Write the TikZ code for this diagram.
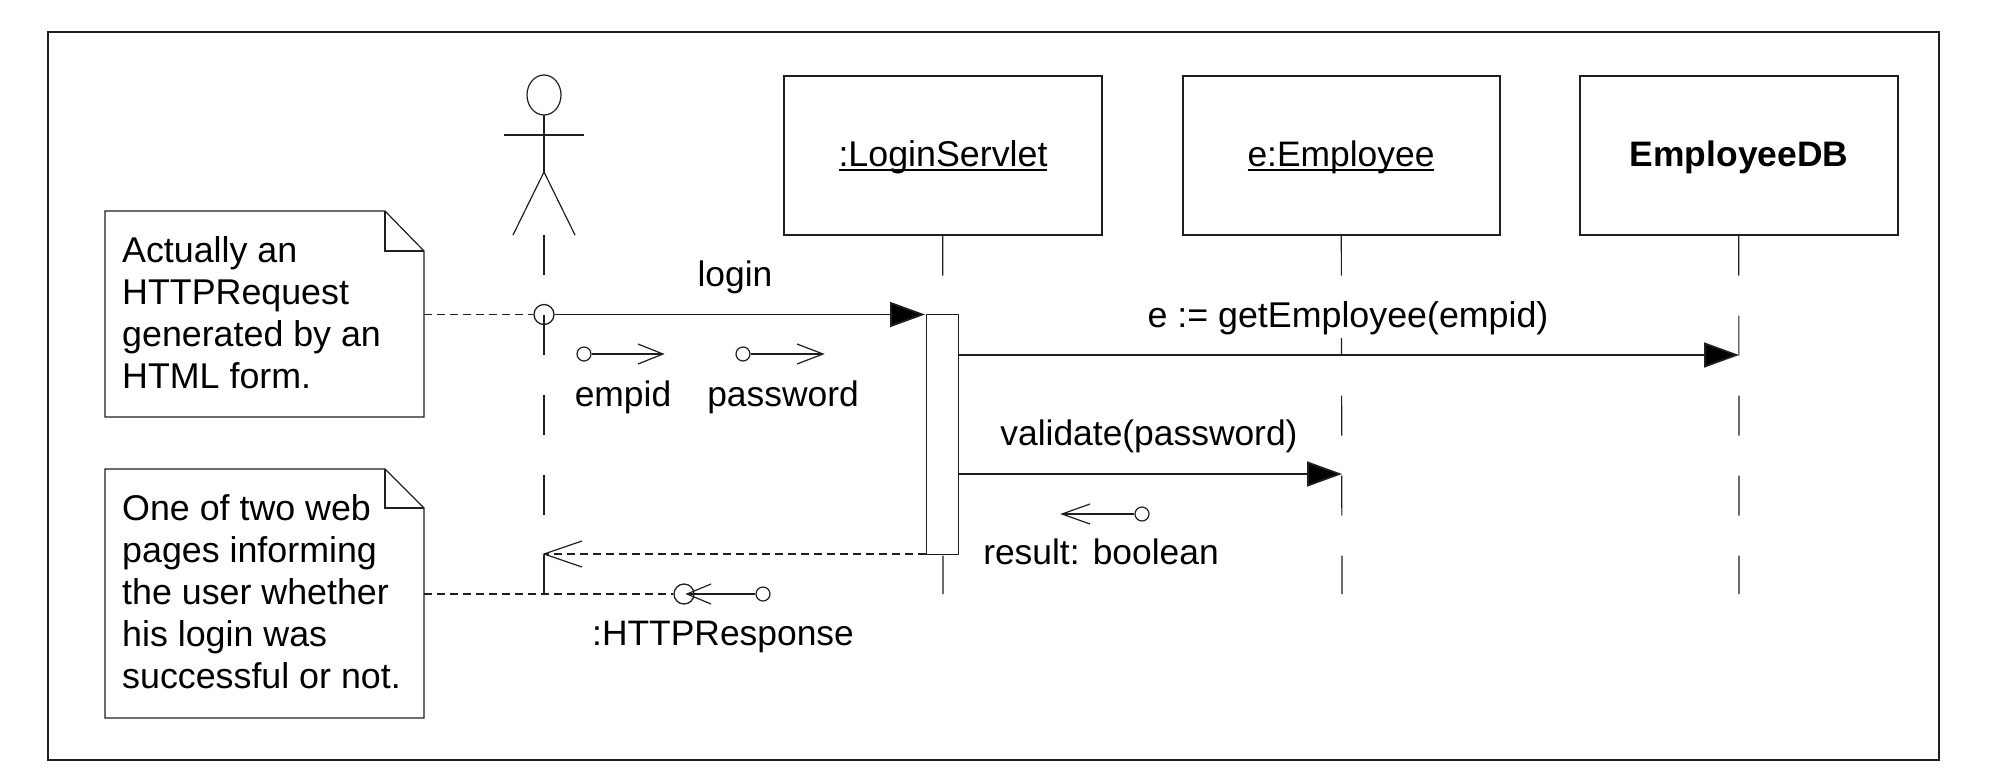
\documentclass[tikz,border=0pt]{standalone}
\usepackage{fontspec}
\setmainfont{Liberation Sans}
\usetikzlibrary{arrows.meta}
\definecolor{ink}{gray}{0.12}
\newcommand{\ulbar}[1]{{\setbox0\hbox{#1}\rlap{\rule[-4.6pt]{\wd0}{2.4pt}}\box0}}
\tikzset{
  x=1pt,y=-1pt,
  frameline/.style={draw=ink,line width=2.8pt},
  thinline/.style={draw=ink,line width=1.2pt},
  boxline/.style={draw=ink,line width=1.6pt},
  objbox/.style={boxline,minimum width=318pt,minimum height=159pt,inner sep=0pt,anchor=north west},
  txt/.style={inner sep=0pt,anchor=base,font=\fontsize{35.4}{42}\selectfont},
  txtw/.style={inner sep=0pt,anchor=base,font=\fontsize{35.8}{42}\selectfont},
  txtl/.style={inner sep=0pt,anchor=base west,font=\fontsize{35.8}{42}\selectfont},
  msg/.style={draw=ink,line width=1.8pt},
  filledhead/.style={-{Triangle[length=35pt,width=25pt,fill=black]}},
  lifedash/.style={draw=ink,line width=1.2pt,dash pattern=on 40pt off 40pt},
  noteleader/.style={draw=ink,line width=1.4pt,dash pattern=on 8pt off 5pt},
  ring/.style={circle,draw=ink,line width=1.3pt,inner sep=0pt,minimum size=20pt},
  smallring/.style={circle,draw=ink,line width=1.2pt,inner sep=0pt,minimum size=14pt,fill=white},
}
\begin{document}
\begin{tikzpicture}
\useasboundingbox (0,0) rectangle (2002,772);
\draw[frameline] (48,32) rectangle (1939,760);
% actor
\draw[thinline] (544,95) ellipse [x radius=17,y radius=20];
\coordinate (neck) at (544,115);
\coordinate (hip) at (544,172);
\draw[thinline] (neck) -- (hip);
\draw[thinline] (504,135) -- (584,135);
\draw[thinline] (513,235) -- (hip) -- (575,235);
% object boxes
\node[objbox] (srv) at (783,75) {};
\node[objbox,minimum width=317pt] (emp) at (1182,75) {};
\node[objbox] (db) at (1579,75) {};
\node[txtw] at (943,166.5) {\ulbar{:LoginServlet}};
\node[txt] at (1341,166.5) {\ulbar{e:Employee}};
\node[txt] at (1739,166.5) {\bfseries EmployeeDB};
% lifelines
\coordinate (actTop) at (544,235);
\coordinate (actBot) at (544,594);
\coordinate (srvBot) at (943,594);
\coordinate (empBot) at (1342,594);
\coordinate (dbBot) at (1739,594);
\draw[lifedash] (actTop) -- (actBot);
\draw[lifedash] (srv.south) -- (srvBot);
\draw[lifedash] (emp.south) -- (empBot);
\draw[lifedash] (db.south) -- (dbBot);
% activation
\node[draw=ink,line width=1.2pt,fill=white,minimum width=32pt,minimum height=240pt,inner sep=0pt,anchor=north west] (act) at (926,314) {};
% notes
\coordinate (n1a) at (105,211); \coordinate (n1b) at (385,211);
\coordinate (n1c) at (424,251); \coordinate (n1d) at (424,417); \coordinate (n1e) at (105,417);
\coordinate (n1f) at (385,251);
\draw[thinline,fill=white] (n1a) -- (n1b) -- (n1c) -- (n1d) -- (n1e) -- cycle;
\draw[thinline] (n1b) -- (n1f) -- (n1c);
\node[txtl] at (122,262) {Actually an};
\node[txtl] at (122,304) {HTTPRequest};
\node[txtl] at (122,346) {generated by an};
\node[txtl] at (122,388) {HTML form.};
\coordinate (n2a) at (105,469); \coordinate (n2b) at (385,469);
\coordinate (n2c) at (424,508); \coordinate (n2d) at (424,718); \coordinate (n2e) at (105,718);
\coordinate (n2f) at (385,508);
\draw[thinline,fill=white] (n2a) -- (n2b) -- (n2c) -- (n2d) -- (n2e) -- cycle;
\draw[thinline] (n2b) -- (n2f) -- (n2c);
\node[txtl] at (122,520) {One of two web};
\node[txtl] at (122,562) {pages informing};
\node[txtl] at (122,604) {the user whether};
\node[txtl] at (122,646) {his login was};
\node[txtl] at (122,688) {successful or not.};
% login
\node[ring] (lg) at (544,314.5) {};
\coordinate (n1r) at (424,314.5);
\draw[noteleader] (n1r) -- (lg.west);
\coordinate (actL) at (925,314.5);
\draw[msg,filledhead] (lg.east) -- (actL);
\node[txt] at (735,286) {login};
% small params
\node[smallring] (p1) at (584,354) {};
\coordinate (p1e) at (663,354);
\draw[msg] (p1.east) -- (p1e);
\draw[thinline] (638,344) -- (p1e) -- (638,364);
\node[txt] at (623,406) {empid};
\node[smallring] (p2) at (743,354) {};
\coordinate (p2e) at (823,354);
\draw[msg] (p2.east) -- (p2e);
\draw[thinline] (797,344) -- (p2e) -- (797,364);
\node[txt] at (783,406) {password};
% getEmployee label masks the employee lifeline
\node[txtw,fill=white,text depth=11pt] at (1348,327) {e := getEmployee(empid)};
\coordinate (geS) at (958,355); \coordinate (geE) at (1739,355);
\draw[msg,filledhead] (geS) -- (geE);
% validate
\coordinate (vaS) at (958,474); \coordinate (vaE) at (1342,474);
\draw[msg,filledhead] (vaS) -- (vaE);
\node[txt] at (1149,445) {validate(password)};
% result
\node[smallring] (r) at (1142,514) {};
\coordinate (rE) at (1062,514);
\draw[msg] (r.west) -- (rE);
\draw[thinline] (1090,504) -- (rE) -- (1090,524);
\node[txt] at (1101,564) {result: boolean};
% return
\coordinate (retS) at (926,554); \coordinate (retE) at (544,554);
\draw[noteleader] (retS) -- (retE);
\draw[thinline] (582,541) -- (retE) -- (582,567);
% response
\node[ring] (hr) at (684,594) {};
\coordinate (n2r) at (424,594);
\draw[noteleader] (n2r) -- (hr.west);
\node[smallring] (hs) at (763,594) {};
\coordinate (hE) at (687,594);
\draw[msg] (hs.west) -- (hE);
\draw[thinline] (711,584) -- (hE) -- (711,604);
\node[txt] at (723,645) {:HTTPResponse};
\end{tikzpicture}
\end{document}
